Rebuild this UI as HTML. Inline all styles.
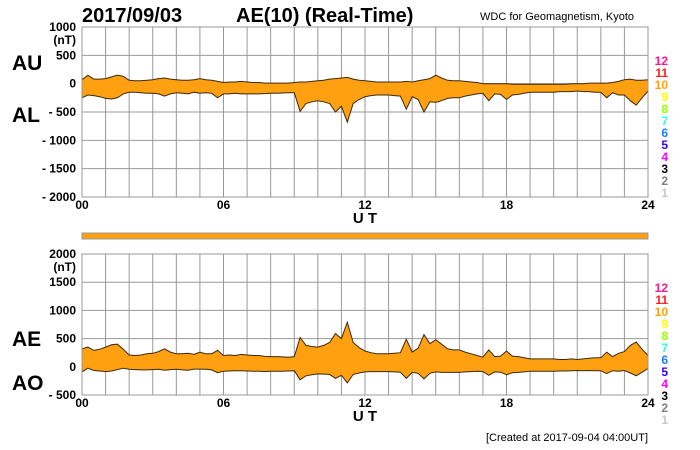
<!DOCTYPE html>
<html><head><meta charset="utf-8"><style>
body{margin:0;background:#fff;}
svg{display:block;font-family:"Liberation Sans",sans-serif;font-weight:bold;}
</style></head><body>
<svg id="c" width="700" height="450" viewBox="0 0 700 450" xmlns="http://www.w3.org/2000/svg">
<text x="82" y="22" font-size="20">2017/09/03</text>
<text x="236" y="22" font-size="20">AE(10) (Real-Time)</text>
<text x="480" y="20" font-size="11" font-weight="normal">WDC for Geomagnetism, Kyoto</text>
<text x="648" y="441" font-size="11" font-weight="normal" text-anchor="end">[Created at 2017-09-04 04:00UT]</text>
<rect x="82" y="233" width="566" height="6" fill="#ffa010" stroke="#999" stroke-width="1"/>
<g id="g"></g>
</svg>
<script>
const hours=["00","06","12","18","24"];
const auValues=[70,150,80,80,90,120,150,130,60,50,50,60,70,90,100,80,70,60,60,70,90,70,60,40,20,30,30,40,30,20,20,10,10,10,10,10,20,30,30,40,50,60,80,90,100,110,80,60,50,40,30,30,30,30,30,40,30,50,70,90,150,100,60,50,50,40,30,20,0,0,0,0,0,-10,-10,-10,-10,-10,-10,-10,-10,-10,-10,0,0,0,10,10,10,10,20,40,70,80,60,60,70];
const alValues=[-250,-200,-210,-230,-260,-270,-250,-180,-150,-150,-160,-170,-170,-180,-220,-180,-160,-170,-180,-150,-170,-160,-170,-250,-180,-180,-170,-180,-180,-180,-180,-175,-170,-170,-165,-160,-160,-490,-350,-320,-300,-320,-350,-500,-400,-680,-350,-280,-230,-210,-200,-200,-200,-210,-220,-450,-230,-280,-500,-320,-330,-300,-260,-250,-250,-220,-200,-180,-170,-300,-180,-190,-280,-200,-190,-170,-150,-150,-150,-150,-150,-140,-140,-140,-130,-140,-140,-150,-150,-250,-160,-200,-200,-300,-380,-250,-130];
const topTicks=["1000","500","0","- 500","- 1000","- 1500","- 2000"];
const botTicks=["2000","1500","1000","500","0","- 500"];
const stationColors=["#ff1a8c","#ff2020","#ffa010","#ffff00","#99ff00","#33ffdd","#1a80ff","#3300ff","#ff00ff","#000","#808080","#c8c8c8"];
const NS="http://www.w3.org/2000/svg";
const g=document.getElementById('g');
function mk(t,a,p){const e=document.createElementNS(NS,t);for(const k in a)e.setAttribute(k,a[k]);(p||g).appendChild(e);return e;}
const X0=82,X1=648;
const xS=h=>X0+(X1-X0)*h/24;
function panel(top,bot,vmax,vmin,ticks,upName,loName,upY,loY,upper,lower,pfx){
  const yS=v=>top+(vmax-v)*(bot-top)/(vmax-vmin);
  for(let h=0;h<=24;h++){const l=mk('line',{x1:xS(h),x2:xS(h),y1:top,y2:bot,stroke:'#999','stroke-width':1});
    }
  for(let v=vmin;v<=vmax;v+=500){const l=mk('line',{x1:X0,x2:X1,y1:yS(v),y2:yS(v),stroke:'#999','stroke-width':1});
    }
  ticks.forEach((t,i)=>{const v=vmax-500*i-(i>0&&vmax===1000?500:0);
    const vv=vmax===1000?(i===0?1000:1000-500*i):vmax-500*i;
    const e=mk('text',{x:76,y:yS(vv)+4,'font-size':12,'text-anchor':'end'});e.textContent=t;
    });
  const u=mk('text',{x:76,y:top+17,'font-size':12,'text-anchor':'end'});u.textContent='(nT)';
  
  hours.forEach((h,i)=>{const e=mk('text',{x:xS(i*6),y:bot+12,'font-size':12,'text-anchor':'middle'});e.textContent=h;
    });
  const ut=mk('text',{x:xS(12),y:bot+26,'font-size':15,'text-anchor':'middle'});ut.textContent='U T';
  
  const a=mk('text',{x:12,y:upY,'font-size':21});a.textContent=upName;
  
  const b=mk('text',{x:12,y:loY,'font-size':21});b.textContent=loName;
  
  const n=upper.length;
  let up=upper.map((v,i)=>xS(24*i/(n-1)).toFixed(1)+','+yS(v).toFixed(1));
  let lo=lower.map((v,i)=>xS(24*i/(n-1)).toFixed(1)+','+yS(v).toFixed(1));
  const area=mk('polygon',{points:up.concat(lo.slice().reverse()).join(' '),fill:'#ffa010'});
  
  const l1=mk('polyline',{points:up.join(' '),fill:'none',stroke:'#3a2a10','stroke-width':1});
  
  const l2=mk('polyline',{points:lo.join(' '),fill:'none',stroke:'#3a2a10','stroke-width':1});
  
  const bx=mk('rect',{x:X0,y:top,width:X1-X0,height:bot-top,fill:'none',stroke:'#999','stroke-width':1});
  
  stationColors.forEach((c,i)=>{const e=mk('text',{x:668,y:top+38+12*i,'font-size':12,'text-anchor':'end',fill:c});
    e.textContent=String(12-i);
    });
}
const aeValues=auValues.map((v,i)=>v-alValues[i]);
const aoValues=auValues.map((v,i)=>(v+alValues[i])/2);
panel(27,197,1000,-2000,topTicks,'AU','AL',70,122,auValues,alValues,'top');
panel(254,395,2000,-500,botTicks,'AE','AO',346,390,aeValues,aoValues,'bottom');
</script>
</body></html>
